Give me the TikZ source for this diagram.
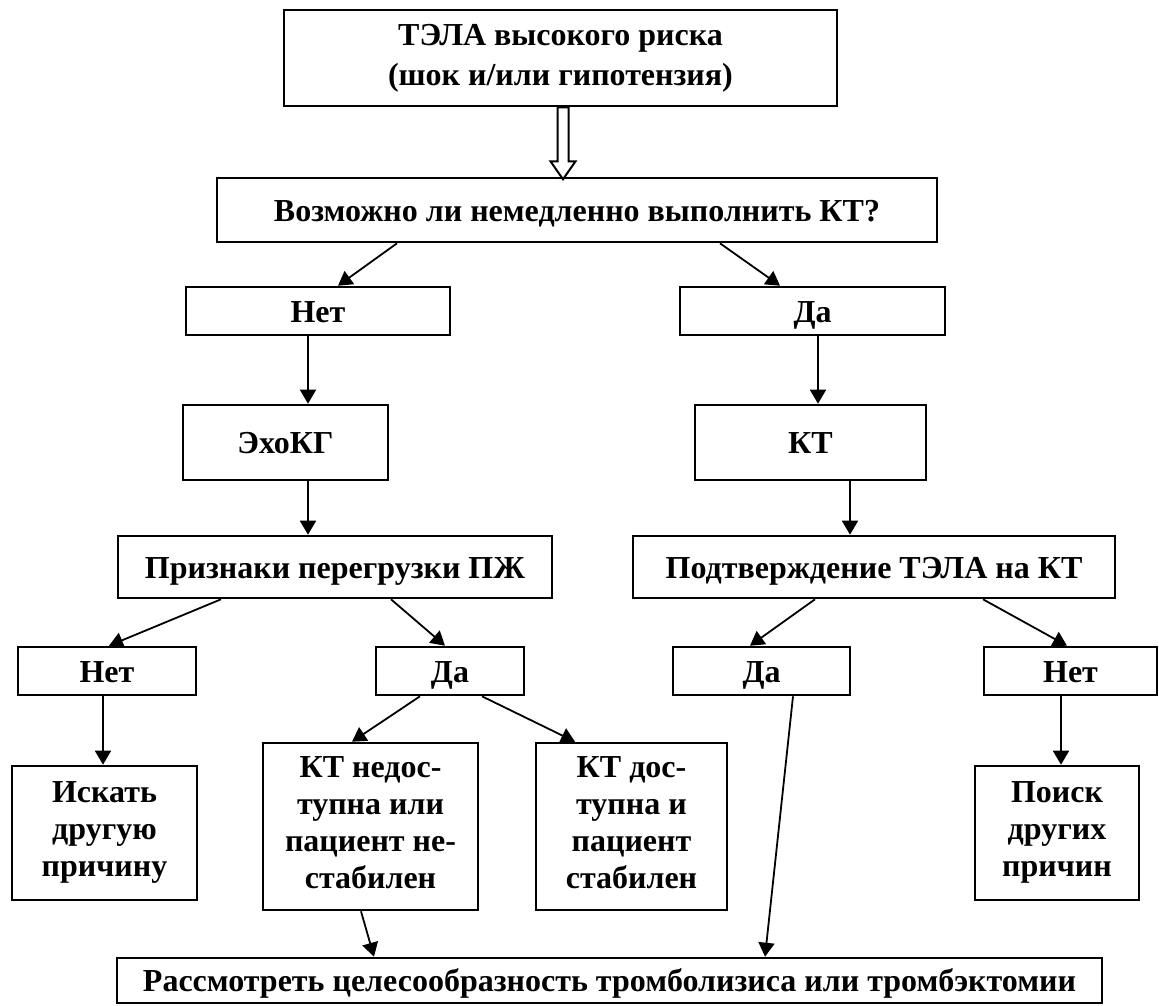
\documentclass[tikz,border=0pt]{standalone}
\usepackage{fontspec}
\setmainfont{Liberation Serif}
\usetikzlibrary{arrows.meta}
\newcommand{\topstrut}{\rule{0pt}{29pt}}
\newcommand{\botstrut}{\rule[-7pt]{0pt}{7pt}}
\tikzset{
  box/.style={draw, line width=2.6pt, rectangle, inner sep=0pt, align=center,
    font=\fontsize{32}{37}\selectfont\bfseries,
    execute at begin node=\topstrut, execute at end node=\botstrut},
  arr/.style={line width=1.8pt, -{Triangle[length=14pt,width=16pt]}},
  hollow/.style={line width=2pt, fill=white, line join=miter}
}
\begin{document}
\begin{tikzpicture}[x=1pt,y=-1pt]
\useasboundingbox (0,0) rectangle (1159,1005);
\node[box, minimum width=553pt, minimum height=96pt] (top) at (560.5,58) {ТЭЛА высокого риска\\[3pt](шок и/или гипотензия)};
\node[box, minimum width=720pt, minimum height=64pt] (voz) at (577,210) {Возможно ли немедленно выполнить КТ?};
\node[box, minimum width=264pt, minimum height=48pt] (net1) at (318,311) {Нет};
\node[box, minimum width=265pt, minimum height=48pt] (da1) at (812.5,311) {Да};
\node[box, minimum width=205pt, minimum height=75pt] (echo) at (285.5,442.5) {ЭхоКГ};
\node[box, minimum width=231pt, minimum height=75pt] (kt) at (810.5,442.5) {КТ};
\node[box, minimum width=434pt, minimum height=62pt] (priz) at (335,567) {Признаки перегрузки ПЖ};
\node[box, minimum width=482pt, minimum height=62pt] (podt) at (874,567) {Подтверждение ТЭЛА на КТ};
\node[box, minimum width=178pt, minimum height=48pt] (net2) at (107,671) {Нет};
\node[box, minimum width=148pt, minimum height=48pt] (da2) at (450,671) {Да};
\node[box, minimum width=177pt, minimum height=48pt] (da3) at (761.5,671) {Да};
\node[box, minimum width=173pt, minimum height=48pt] (net3) at (1070.5,671) {Нет};
\node[box, minimum width=185pt, minimum height=134pt] (iskat) at (104.5,833) {Искать\\другую\\причину};
\node[box, minimum width=215pt, minimum height=167pt] (ktn) at (370.5,826.5) {КТ недос-\\тупна или\\пациент не-\\стабилен};
\node[box, minimum width=191pt, minimum height=167pt] (ktd) at (631.5,826.5) {КТ дос-\\тупна и\\пациент\\стабилен};
\node[box, minimum width=164pt, minimum height=134pt] (poisk) at (1057,833) {Поиск\\других\\причин};
\node[box, minimum width=985pt, minimum height=45pt] (bot) at (609.5,980.5) {Рассмотреть целесообразность тромболизиса или тромбэктомии};
% hollow arrow
\draw[hollow] ([xshift=-3pt]top.south) -- ++(0,54) -- ++(-7,0) -- ++(12.5,18) -- ++(12.5,-18) -- ++(-7,0) -- ++(0,-54) -- cycle;
% connectors
\draw[arr] ([xshift=-180pt]voz.south) -- ([xshift=20pt]net1.north);
\draw[arr] ([xshift=143pt]voz.south) -- ([xshift=-32.5pt]da1.north);
\draw[arr] ([xshift=-10pt]net1.south) -- ([xshift=22.5pt]echo.north);
\draw[arr] ([xshift=5.5pt]da1.south) -- ([xshift=7.5pt]kt.north);
\draw[arr] ([xshift=22.5pt]echo.south) -- ([xshift=-27pt]priz.north);
\draw[arr] ([xshift=39.5pt]kt.south) -- ([xshift=-24pt]podt.north);
\draw[arr] ([xshift=-114pt]priz.south) -- ([xshift=2pt]net2.north);
\draw[arr] ([xshift=56pt]priz.south) -- ([xshift=-5pt]da2.north);
\draw[arr] ([xshift=-59pt]podt.south) -- ([xshift=-11.5pt]da3.north);
\draw[arr] ([xshift=109pt]podt.south) -- ([xshift=-3.5pt]net3.north);
\draw[arr] ([xshift=-4pt]net2.south) -- ([xshift=-1.5pt]iskat.north);
\draw[arr] ([xshift=-30pt]da2.south) -- ([xshift=-18.5pt]ktn.north);
\draw[arr] ([xshift=32pt]da2.south) -- ([xshift=-56.5pt]ktd.north);
\draw[arr] ([xshift=-9.5pt]net3.south) -- ([xshift=4pt]poisk.north);
\draw[arr] ([xshift=31.5pt]da3.south) -- ([xshift=155.5pt]bot.north);
\draw[arr] ([xshift=-9.5pt]ktn.south) -- ([xshift=-235.5pt]bot.north);
\end{tikzpicture}
\end{document}
